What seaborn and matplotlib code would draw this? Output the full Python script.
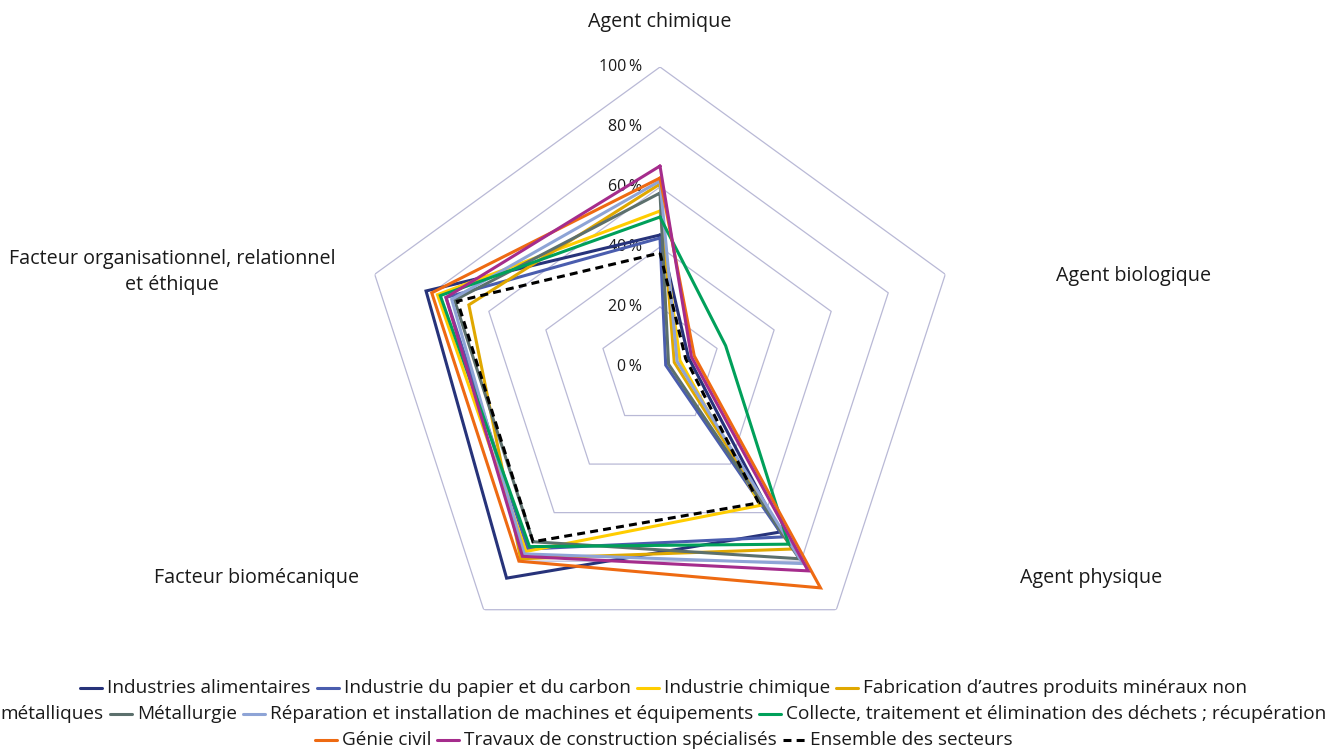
import numpy as np
import matplotlib
matplotlib.use("Agg")
import matplotlib.pyplot as plt
from matplotlib.lines import Line2D
import seaborn as sns

# Radar axes (clockwise from the top)
categories = [
    "Agent chimique",
    "Agent biologique",
    "Agent physique",
    "Facteur biomécanique",
    "Facteur organisationnel, relationnel\net éthique",
]

series_names = [
    "Industries alimentaires",
    "Industrie du papier et du carbon",
    "Industrie chimique",
    "Fabrication d’autres produits minéraux non métalliques",
    "Métallurgie",
    "Réparation et installation de machines et équipements",
    "Collecte, traitement et élimination des déchets ; récupération",
    "Génie civil",
    "Travaux de construction spécialisés",
    "Ensemble des secteurs",
]

# Share of exposed employees (%) per factor
industries_alimentaires = [44, 10, 68, 87, 82]
papier_carton = [43, 2, 70, 75, 75]
industrie_chimique = [52, 7, 57, 76, 78]
mineraux_non_metalliques = [61, 5, 75, 79, 67]
metallurgie = [58, 3, 79, 72, 72]
reparation_installation = [62, 6, 81, 77, 73]
collecte_dechets = [50, 23, 73, 74, 77]
genie_civil = [63, 12, 91, 80, 80]
travaux_specialises = [67, 11, 84, 78, 75]
ensemble_secteurs = [38, 9, 56, 72, 71]

series_values = [
    industries_alimentaires, papier_carton, industrie_chimique,
    mineraux_non_metalliques, metallurgie, reparation_installation,
    collecte_dechets, genie_civil, travaux_specialises, ensemble_secteurs,
]

colors = ["#27337A", "#4A5DAE", "#FFCD00", "#E0A800", "#5C706D",
          "#8EA4D6", "#00A05A", "#EE6A12", "#A52C8C", "#000000"]

ring_levels = [0, 20, 40, 60, 80, 100]
ring_labels = ["0\u2009%", "20\u2009%", "40\u2009%", "60\u2009%", "80\u2009%", "100\u2009%"]

sns.set_theme(style="white")
plt.rcParams["font.family"] = ["Open Sans", "DejaVu Sans"]

W, H = 1327, 749
fig = plt.figure(figsize=(W / 100, H / 100), dpi=100)
fig.patch.set_facecolor("white")

cx, cy, R = 660, 367, 300
ax = fig.add_axes([(cx - R) / W, (H - cy - R) / H, 2 * R / W, 2 * R / H],
                  projection="polar")
ax.set_theta_zero_location("N")
ax.set_theta_direction(-1)
ax.set_ylim(0, 100)
ax.grid(False)
ax.set_xticks([])
ax.set_yticks([])
ax.spines["polar"].set_visible(False)
ax.set_facecolor("none")

n = len(categories)
theta = np.linspace(0, 2 * np.pi, n, endpoint=False)
theta_closed = np.append(theta, 2 * np.pi)

# Pentagon grid
for lvl in ring_levels[1:]:
    ax.plot(theta_closed, [lvl] * (n + 1), color="#B9B9D6", lw=0.9, zorder=1)

# Ring value labels along the top axis
for lvl, lab in zip(ring_levels, ring_labels):
    ax.annotate(lab, xy=(0, lvl), xytext=(-13, 0), textcoords="offset points",
                ha="right", va="center", fontsize=11.5, color="#1a1a1a")

# Series
for name, vals, col in zip(series_names, series_values, colors):
    vals_closed = np.append(vals, vals[0])
    dashed = name == "Ensemble des secteurs"
    sns.lineplot(x=theta_closed, y=vals_closed, ax=ax, color=col, lw=2.2,
                 sort=False, estimator=None,
                 linestyle=(0, (2.6, 1.7)) if dashed else "-",
                 solid_joinstyle="miter", dash_joinstyle="miter", zorder=3)
ax.set_xlabel("")
ax.set_ylabel("")


def fpos(x, y):
    return x / W, 1 - y / H


label_pos = [(660, 22), (1134, 276), (1091, 578), (257, 578), (172, 272)]
for lab, (x, y) in zip(categories, label_pos):
    fig.text(*fpos(x, y), lab, ha="center", va="center", fontsize=14.2,
             color="#1a1a1a", linespacing=1.35)

# Legend laid out as a wrapped flow of entries
head, tail = series_names[3].rsplit(" ", 1)
legend_rows = [
    [(0, series_names[0]), (1, series_names[1]), (2, series_names[2]), (3, head)],
    [(None, tail), (4, series_names[4]), (5, series_names[5]), (6, series_names[6])],
    [(7, series_names[7]), (8, series_names[8]), (9, series_names[9])],
]
row_y = [688, 714, 740]
handle_len, handle_gap, item_gap = 22, 5, 6

fig.canvas.draw()
renderer = fig.canvas.get_renderer()
for row, y in zip(legend_rows, row_y):
    texts = []
    total = 0
    for idx, lab in row:
        t = fig.text(0, 0, lab, ha="left", va="center", fontsize=13.7, color="#1a1a1a")
        w = t.get_window_extent(renderer).width
        texts.append((idx, t, w))
        total += w + item_gap + (handle_len + handle_gap if idx is not None else 0)
    total -= item_gap
    x = W / 2 - total / 2
    for idx, t, w in texts:
        if idx is not None:
            dashed = idx == 9
            fig.add_artist(Line2D([x / W, (x + handle_len) / W], [1 - y / H] * 2,
                                  color=colors[idx], lw=2.2,
                                  linestyle=(0, (2.6, 1.7)) if dashed else "-",
                                  transform=fig.transFigure))
            x += handle_len + handle_gap
        t.set_position(fpos(x, y))
        x += w + item_gap

fig.savefig("out.png", dpi=100)
